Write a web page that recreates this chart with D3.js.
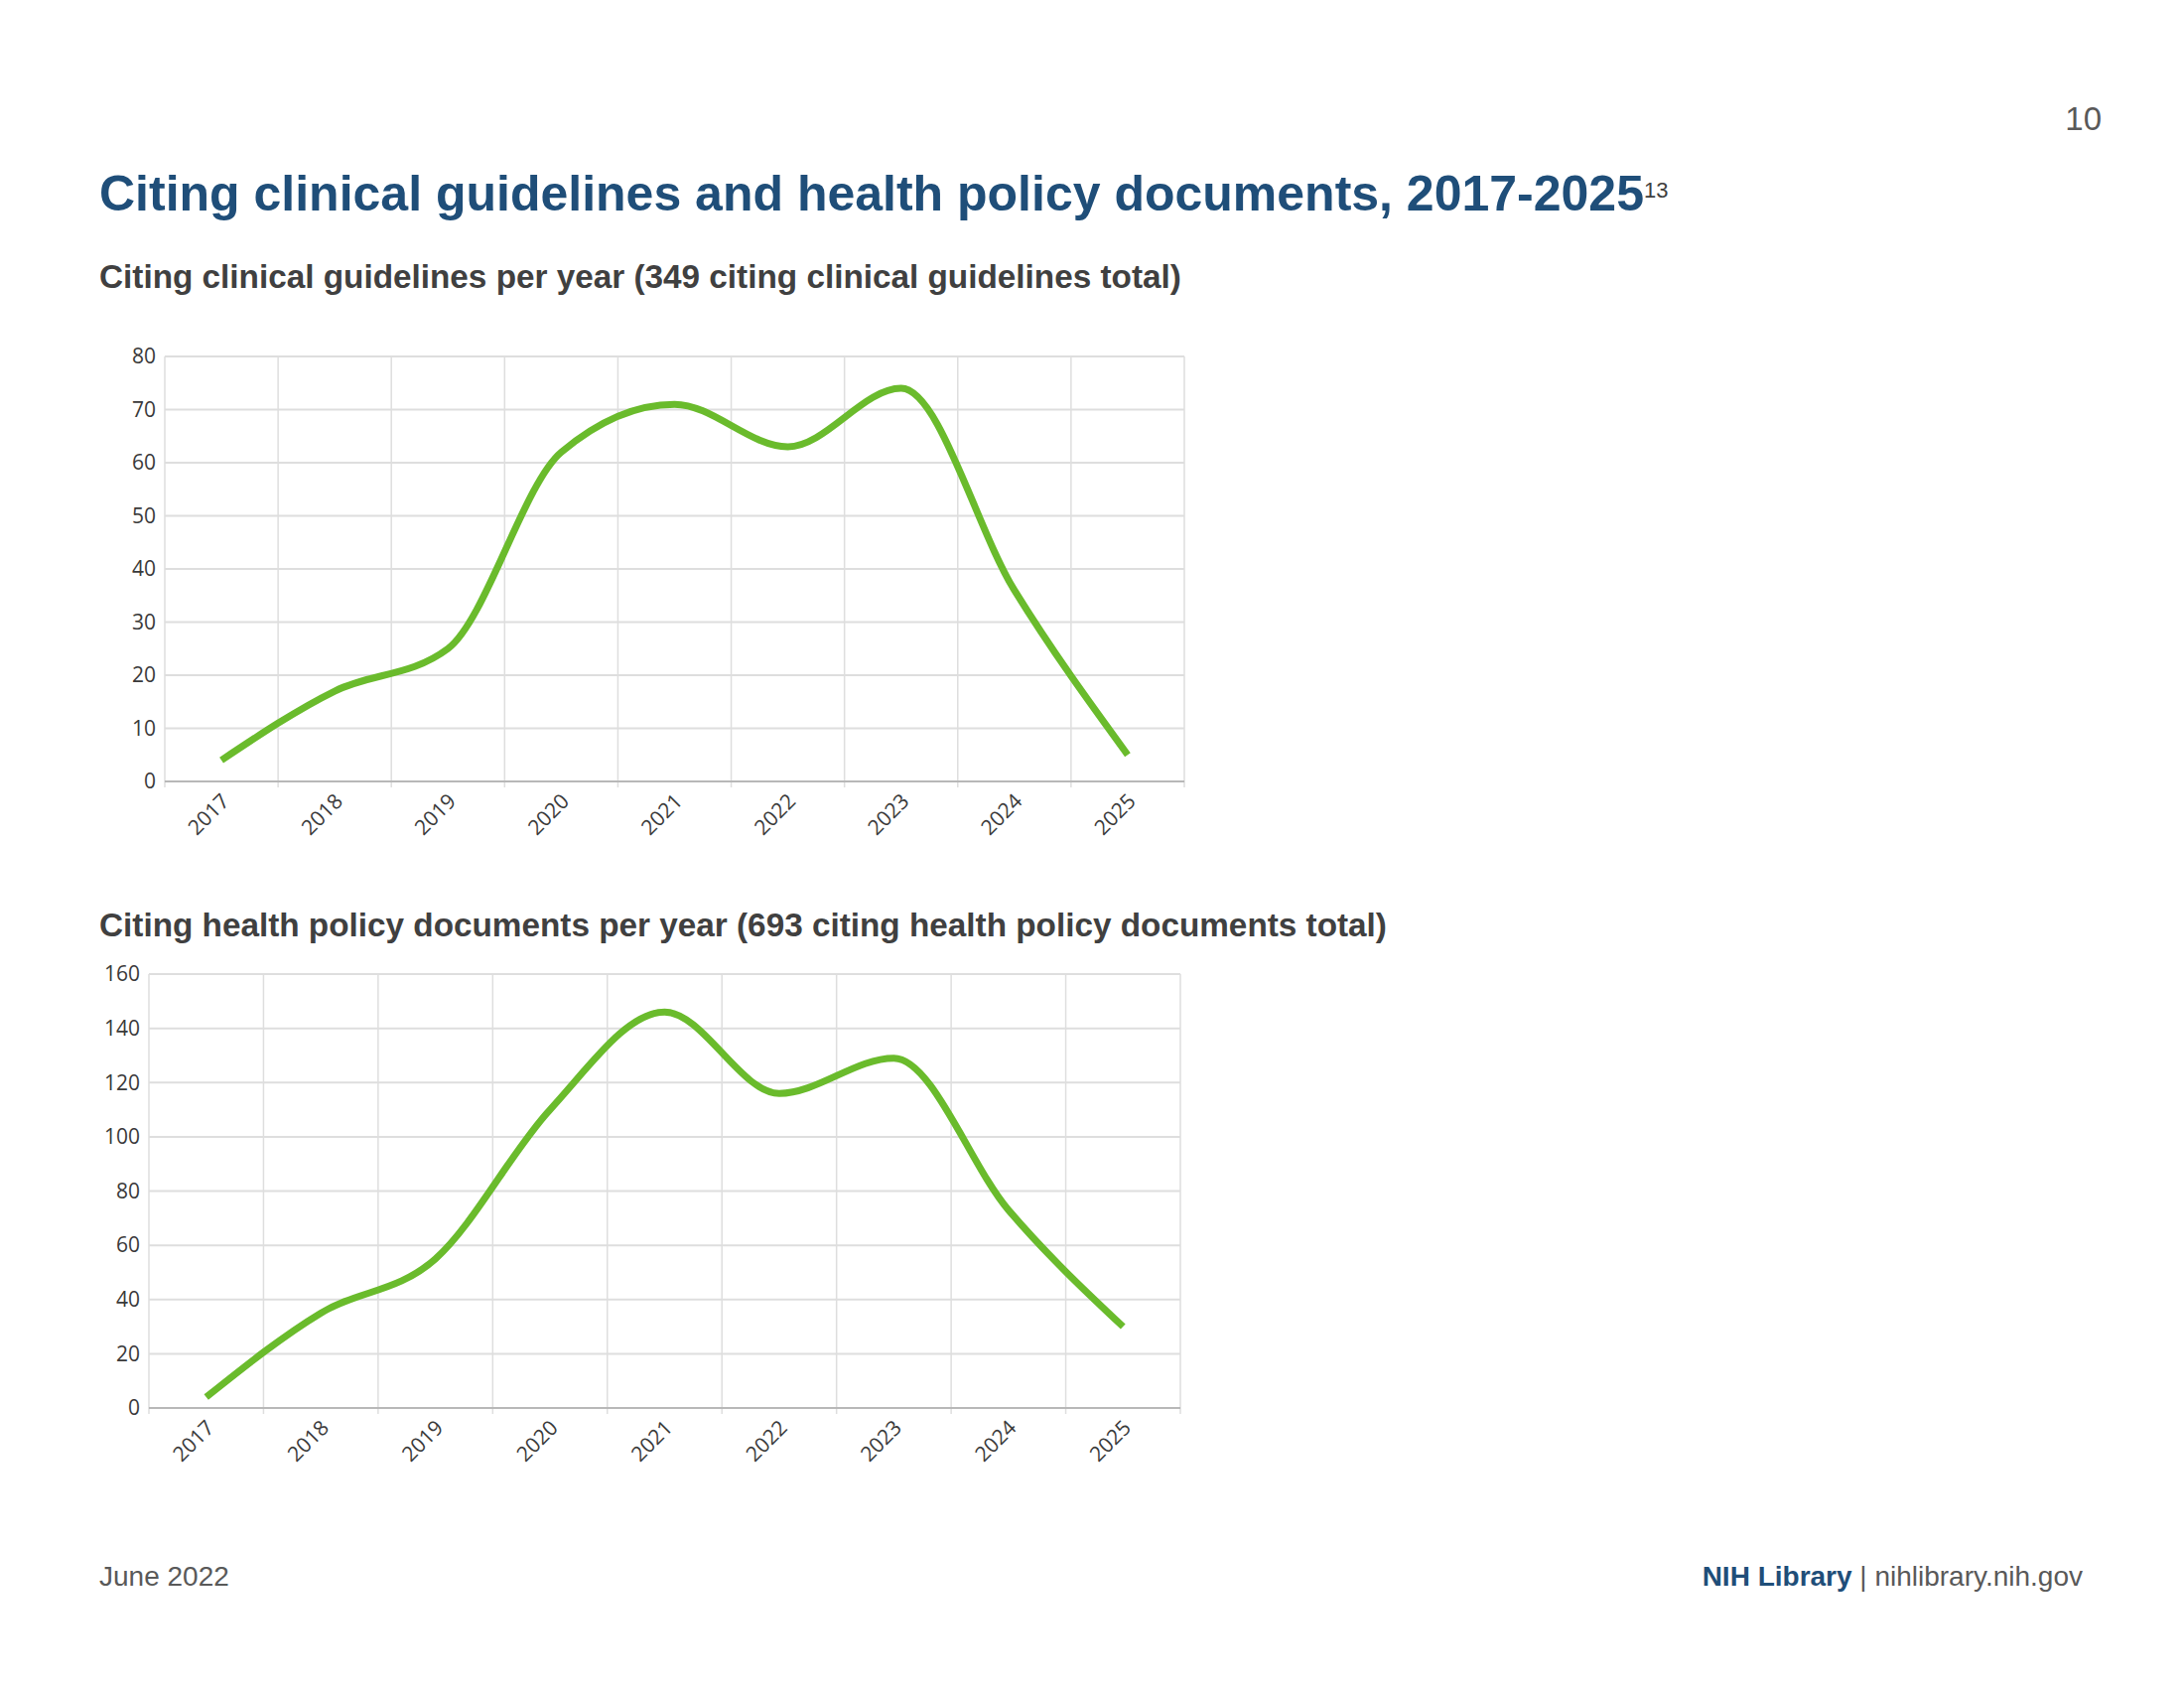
<!DOCTYPE html>
<html>
<head>
<meta charset="utf-8">
<script src="https://cdn.jsdelivr.net/npm/d3@7"></script>
<style>
  body { margin: 0; background: #fff; }
  text { font-family: "Liberation Sans", Arial, sans-serif; }
  .tick-label { font-family: "Open Sans", sans-serif; font-size: 21px; fill: #3a3a3a; }
</style>
</head>
<body>
<div id="slide"></div>
<script>
// Data
const years = ["2017", "2018", "2019", "2020", "2021", "2022", "2023", "2024", "2025"];
const guidelineCounts = [4, 17, 25, 62, 71, 63, 74, 36, 5];
const policyCounts = [4, 35, 55, 110, 146, 116, 129, 73, 30];
const guidelineTicks = [0, 10, 20, 30, 40, 50, 60, 70, 80];
const policyTicks = [0, 20, 40, 60, 80, 100, 120, 140, 160];

const W = 2200, H = 1700;
const green = "#6abb2c";
const gridColor = "#dedede";

const svg = d3.select("#slide")
  .append("svg")
  .attr("width", W)
  .attr("height", H);

// Page number
svg.append("text")
   .attr("x", 2117)
   .attr("y", 131)
   .attr("text-anchor", "end")
   .attr("font-size", 33)
   .attr("fill", "#595959")
   .text("10");

// Main title with footnote marker
const title = svg.append("text")
   .attr("x", 100)
   .attr("y", 212)
   .attr("font-size", 50)
   .attr("font-weight", "bold")
   .attr("fill", "#1f4e79");
title.append("tspan").text("Citing clinical guidelines and health policy documents, 2017-2025");
title.append("tspan")
   .attr("font-size", 22)
   .attr("font-weight", "normal")
   .attr("fill", "#404040")
   .attr("dy", -13)
   .text("13");

// Draws one line chart with a band x axis and gridlines
function drawChart(cfg) {
    const g = svg.append("g");

    g.append("text")
     .attr("x", 100)
     .attr("y", cfg.titleY)
     .attr("font-size", 33.3)
     .attr("font-weight", "bold")
     .attr("fill", "#404040")
     .text(cfg.title);

    const x = d3.scaleBand()
      .domain(years)
      .range([cfg.left, cfg.right]);

    const y = d3.scaleLinear()
      .domain([0, d3.max(cfg.ticks)])
      .range([cfg.bottom, cfg.top]);

    // Horizontal gridlines
    g.selectAll(".hgrid")
     .data(cfg.ticks.slice(1))
     .enter()
     .append("line")
     .attr("x1", cfg.left)
     .attr("x2", cfg.right)
     .attr("y1", d => y(d))
     .attr("y2", d => y(d))
     .attr("stroke", gridColor)
     .attr("stroke-width", 2);

    // Vertical gridlines on band edges
    const edges = years.map(d => x(d)).concat([cfg.right]);
    g.selectAll(".vgrid")
     .data(edges)
     .enter()
     .append("line")
     .attr("x1", d => d)
     .attr("x2", d => d)
     .attr("y1", cfg.top)
     .attr("y2", cfg.bottom + 6)
     .attr("stroke", gridColor)
     .attr("stroke-width", 1.5);

    // Baseline
    g.append("line")
     .attr("x1", cfg.left)
     .attr("x2", cfg.right)
     .attr("y1", y(0))
     .attr("y2", y(0))
     .attr("stroke", "#b8b8b8")
     .attr("stroke-width", 2);

    // Y tick labels
    g.selectAll(".ylab")
     .data(cfg.ticks)
     .enter()
     .append("text")
     .attr("class", "tick-label")
     .attr("x", cfg.left - 9)
     .attr("y", d => y(d))
     .attr("dy", "0.35em")
     .attr("text-anchor", "end")
     .text(d => d);

    // X tick labels, rotated
    g.selectAll(".xlab")
     .data(years)
     .enter()
     .append("text")
     .attr("class", "tick-label")
     .attr("text-anchor", "end")
     .attr("dy", "0.35em")
     .attr("transform", d => `translate(${x(d) + x.bandwidth() / 2 + 4},${cfg.bottom + 16}) rotate(-45)`)
     .text(d => d);

    // The data line
    const line = d3.line()
      .x((d, i) => x(years[i]) + x.bandwidth() / 2)
      .y(d => y(d))
      .curve(d3.curveMonotoneX);

    g.append("path")
     .datum(cfg.values)
     .attr("fill", "none")
     .attr("stroke", green)
     .attr("stroke-width", 7)
     .attr("d", line);
}

drawChart({
    title: "Citing clinical guidelines per year (349 citing clinical guidelines total)",
    titleY: 290,
    values: guidelineCounts,
    ticks: guidelineTicks,
    left: 166, right: 1193, top: 359, bottom: 787
});

drawChart({
    title: "Citing health policy documents per year (693 citing health policy documents total)",
    titleY: 943,
    values: policyCounts,
    ticks: policyTicks,
    left: 150, right: 1189, top: 981, bottom: 1418
});

// Footer
svg.append("text")
   .attr("x", 100)
   .attr("y", 1597)
   .attr("font-size", 28)
   .attr("fill", "#595959")
   .text("June 2022");

const footer = svg.append("text")
   .attr("x", 2098)
   .attr("y", 1597)
   .attr("text-anchor", "end")
   .attr("font-size", 28)
   .attr("fill", "#595959");
footer.append("tspan")
   .attr("font-weight", "bold")
   .attr("fill", "#1f4e79")
   .text("NIH Library");
footer.append("tspan").text(" | nihlibrary.nih.gov");
</script>
</body>
</html>
